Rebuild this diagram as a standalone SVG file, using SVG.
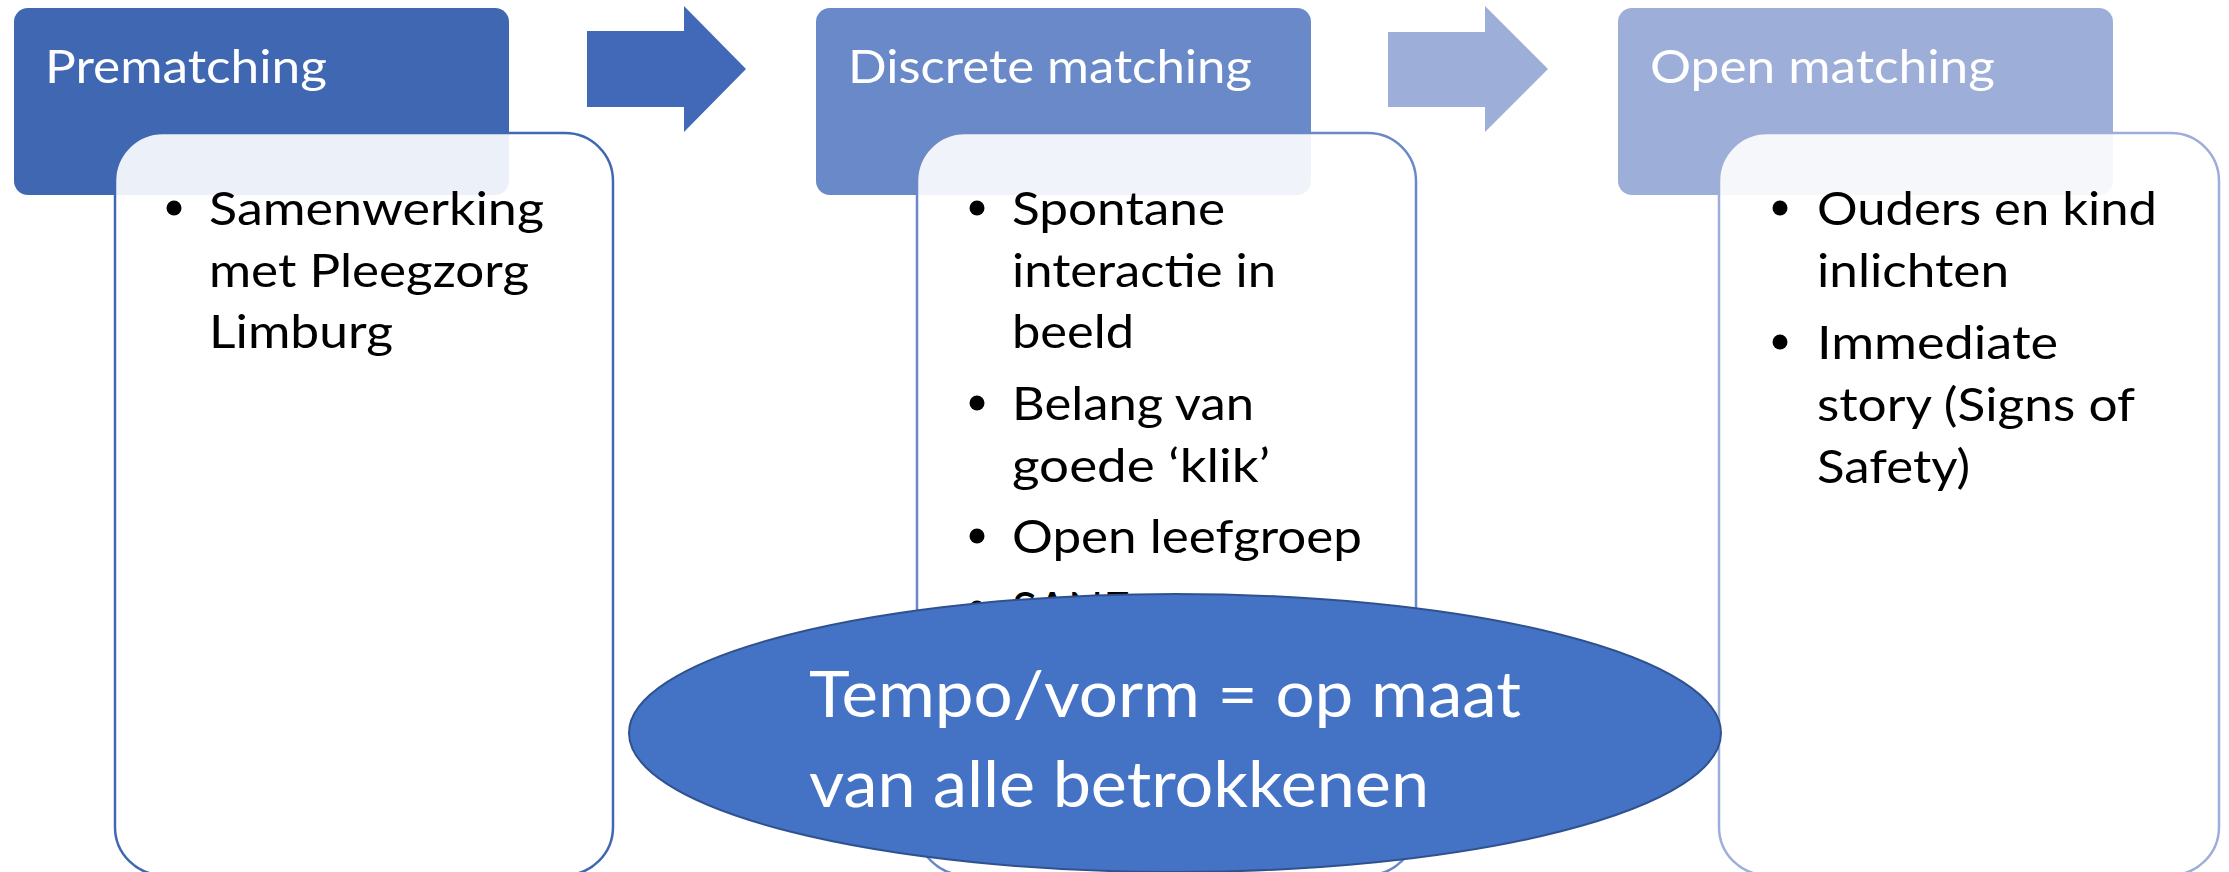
<svg xmlns="http://www.w3.org/2000/svg" width="2229" height="872" viewBox="0 0 2229 872">
<style>
.hdr{font-family:Lato,"Liberation Sans",sans-serif;font-size:47px;fill:#ffffff}
.txt{font-family:Lato,"Liberation Sans",sans-serif;font-size:47px;fill:#000000}
.big{font-family:Lato,"Liberation Sans",sans-serif;font-size:63px;fill:#ffffff}
.card{fill:#ffffff;fill-opacity:0.9;stroke-width:2.5}
.dot{fill:#000000}
</style>
<rect width="2229" height="872" fill="#ffffff"/>
<g id="node-prematching">
  <rect x="14" y="8" width="495" height="187" rx="14" fill="#4068B2"/>
  <text class="hdr" x="45" y="83" textLength="282" lengthAdjust="spacingAndGlyphs">Prematching</text>
</g>
<g id="node-discrete">
  <rect x="816" y="8" width="495" height="187" rx="14" fill="#6A89C8"/>
  <text class="hdr" x="848" y="83" textLength="404" lengthAdjust="spacingAndGlyphs">Discrete matching</text>
</g>
<g id="node-open">
  <rect x="1618" y="8" width="495" height="187" rx="14" fill="#9DAED8"/>
  <text class="hdr" x="1650" y="83" textLength="345" lengthAdjust="spacingAndGlyphs">Open matching</text>
</g>
<g id="card-prematching">
  <rect class="card" x="115" y="133" width="498" height="742" rx="48" stroke="#4068B2"/>
  <circle class="dot" cx="174" cy="208" r="7.5"/>
  <text class="txt" x="209" y="225" textLength="335" lengthAdjust="spacingAndGlyphs">Samenwerking</text>
  <text class="txt" x="209" y="287" textLength="320" lengthAdjust="spacingAndGlyphs">met Pleegzorg</text>
  <text class="txt" x="209" y="348" textLength="184" lengthAdjust="spacingAndGlyphs">Limburg</text>
</g>
<g id="card-discrete">
  <rect class="card" x="917" y="133" width="499" height="742" rx="48" stroke="#6A89C8"/>
  <circle class="dot" cx="977" cy="208" r="7.5"/>
  <text class="txt" x="1012" y="225" textLength="213" lengthAdjust="spacingAndGlyphs">Spontane</text>
  <text class="txt" x="1012" y="287" textLength="264" lengthAdjust="spacingAndGlyphs">interactie in</text>
  <text class="txt" x="1012" y="348" textLength="122" lengthAdjust="spacingAndGlyphs">beeld</text>
  <circle class="dot" cx="977" cy="403" r="7.5"/>
  <text class="txt" x="1012" y="420" textLength="242" lengthAdjust="spacingAndGlyphs">Belang van</text>
  <text class="txt" x="1012" y="482" textLength="258" lengthAdjust="spacingAndGlyphs">goede ‘klik’</text>
  <circle class="dot" cx="977" cy="536" r="7.5"/>
  <text class="txt" x="1012" y="553" textLength="350" lengthAdjust="spacingAndGlyphs">Open leefgroep</text>
  <circle class="dot" cx="977" cy="608" r="7.5"/>
  <text class="txt" x="1012" y="625" textLength="118" lengthAdjust="spacingAndGlyphs">SANE</text>
</g>
<g id="card-open">
  <rect class="card" x="1719" y="133" width="500" height="742" rx="48" stroke="#9DAED8"/>
  <circle class="dot" cx="1780" cy="208" r="7.5"/>
  <text class="txt" x="1817" y="225" textLength="340" lengthAdjust="spacingAndGlyphs">Ouders en kind</text>
  <text class="txt" x="1817" y="287" textLength="192" lengthAdjust="spacingAndGlyphs">inlichten</text>
  <circle class="dot" cx="1780" cy="342" r="7.5"/>
  <text class="txt" x="1817" y="359" textLength="241" lengthAdjust="spacingAndGlyphs">Immediate</text>
  <text class="txt" x="1817" y="421" textLength="318" lengthAdjust="spacingAndGlyphs">story (Signs of</text>
  <text class="txt" x="1817" y="483" textLength="153" lengthAdjust="spacingAndGlyphs">Safety)</text>
</g>
<g id="connectors">
  <polygon points="587,31 684,31 684,6 746,69 684,132 684,107 587,107" fill="#4169B7"/>
  <polygon points="1388,32 1485,32 1485,6 1548,69 1485,132 1485,107 1388,107" fill="#9DAED8"/>
</g>
<g id="node-tempo">
  <ellipse cx="1175" cy="733" rx="546" ry="139" fill="#4472C4" stroke="#2F528F" stroke-width="2"/>
  <text class="big" x="809" y="717" textLength="712" lengthAdjust="spacingAndGlyphs">Tempo/vorm = op maat</text>
  <text class="big" x="809" y="807" textLength="620" lengthAdjust="spacingAndGlyphs">van alle betrokkenen</text>
</g>
</svg>
